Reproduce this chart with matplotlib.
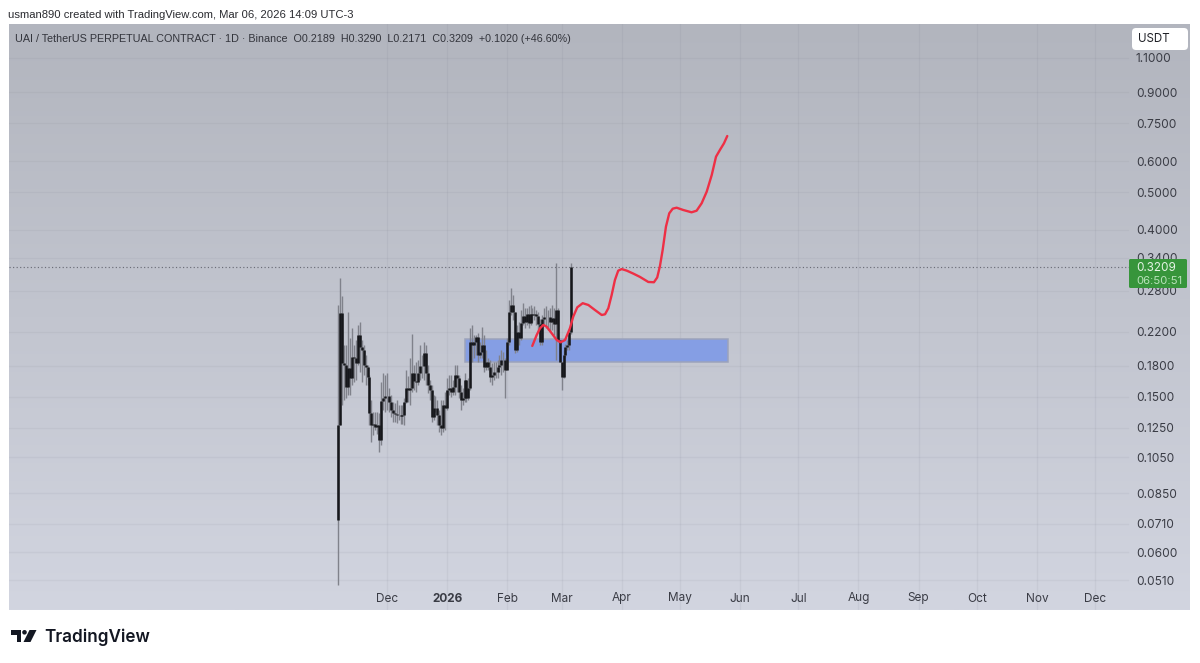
import numpy as np
import pandas as pd
import matplotlib
matplotlib.use("Agg")
import matplotlib.pyplot as plt
import matplotlib.dates as mdates
from matplotlib.patches import Polygon, Ellipse, FancyBboxPatch, Rectangle

W, H = 1200, 663

# daily UAI/USDT candles, first one on Nov 6 2025 (open of each day = previous close)
first_open = 0.0726
closes = [
    0.1270, 0.2455, 0.1828, 0.1807, 0.1588, 0.1776, 0.1675, 0.1895, 0.1883, 0.1828,
    0.2158, 0.2010, 0.1974, 0.1807, 0.1786, 0.1685, 0.1363, 0.1270, 0.1278, 0.1255,
    0.1270, 0.1162, 0.1463, 0.1489, 0.1506, 0.1506, 0.1454, 0.1387, 0.1363, 0.1355,
    0.1347, 0.1347, 0.1339, 0.1347, 0.1454, 0.1579, 0.1560, 0.1579, 0.1725, 0.1645,
    0.1635, 0.1725, 0.1797, 0.1797, 0.1940, 0.1725, 0.1607, 0.1560, 0.1332, 0.1404,
    0.1404, 0.1347, 0.1270, 0.1248, 0.1429, 0.1404, 0.1560, 0.1579, 0.1542, 0.1588,
    0.1705, 0.1675, 0.1542, 0.1471, 0.1489, 0.1654, 0.1489, 0.1579, 0.2070, 0.2034,
    0.2070, 0.2133, 0.1917, 0.1951, 0.2034, 0.1786, 0.1839, 0.1786, 0.1685, 0.1705,
    0.1735, 0.1735, 0.1786, 0.1807, 0.1861, 0.1861, 0.1755, 0.2070, 0.2469, 0.2573,
    0.2469, 0.1974, 0.2196, 0.2120, 0.2315, 0.2411, 0.2328, 0.2440, 0.2315, 0.2440,
    0.2426, 0.2440, 0.2411, 0.2301, 0.2070, 0.2369, 0.2397, 0.2397, 0.2397, 0.2328,
    0.2383, 0.2301, 0.2498, 0.2094, 0.1839, 0.1685, 0.1917, 0.2010, 0.2034, 0.2189,
    0.3209,
]
highs = [
    0.2573, 0.3015, 0.2710, 0.2034, 0.2034, 0.2469, 0.2120, 0.2248, 0.2034, 0.2094,
    0.2288, 0.2328, 0.2094, 0.2034, 0.1917, 0.1807, 0.1705, 0.1471, 0.1371, 0.1371,
    0.1371, 0.1363, 0.1635, 0.1725, 0.1705, 0.1725, 0.1579, 0.1515, 0.1454, 0.1446,
    0.1471, 0.1429, 0.1429, 0.1429, 0.1489, 0.1755, 0.1695, 0.1883, 0.2171, 0.1807,
    0.1839, 0.1861, 0.2034, 0.1917, 0.2070, 0.2034, 0.1807, 0.1654, 0.1607, 0.1515,
    0.1506, 0.1471, 0.1387, 0.1471, 0.1471, 0.1542, 0.1675, 0.1705, 0.1705, 0.1654,
    0.1807, 0.1807, 0.1705, 0.1607, 0.1579, 0.1725, 0.1654, 0.1675, 0.2248, 0.2288,
    0.2158, 0.2158, 0.2183, 0.2070, 0.2261, 0.2158, 0.1974, 0.1883, 0.1861, 0.1828,
    0.1839, 0.1839, 0.1861, 0.1917, 0.1974, 0.1951, 0.1883, 0.2120, 0.2649, 0.2843,
    0.2727, 0.2469, 0.2288, 0.2328, 0.2498, 0.2607, 0.2528, 0.2528, 0.2558, 0.2573,
    0.2528, 0.2558, 0.2498, 0.2469, 0.2369, 0.2426, 0.2528, 0.2558, 0.2498, 0.2528,
    0.2573, 0.2528, 0.3290, 0.2528, 0.2100, 0.1839, 0.1974, 0.2040, 0.2100, 0.2200,
    0.3290,
]
lows = [
    0.0496, 0.1270, 0.1429, 0.1471, 0.1489, 0.1515, 0.1515, 0.1607, 0.1635, 0.1654,
    0.1807, 0.1735, 0.1635, 0.1705, 0.1607, 0.1607, 0.1270, 0.1149, 0.1198, 0.1233,
    0.1205, 0.1084, 0.1129, 0.1387, 0.1371, 0.1387, 0.1371, 0.1332, 0.1293, 0.1293,
    0.1285, 0.1308, 0.1278, 0.1278, 0.1270, 0.1446, 0.1454, 0.1429, 0.1542, 0.1560,
    0.1542, 0.1607, 0.1654, 0.1675, 0.1654, 0.1607, 0.1533, 0.1471, 0.1293, 0.1308,
    0.1371, 0.1270, 0.1219, 0.1198, 0.1219, 0.1233, 0.1387, 0.1515, 0.1497, 0.1515,
    0.1515, 0.1542, 0.1489, 0.1387, 0.1429, 0.1454, 0.1454, 0.1471, 0.1560, 0.1839,
    0.1883, 0.1917, 0.1839, 0.1883, 0.1883, 0.1735, 0.1755, 0.1755, 0.1635, 0.1607,
    0.1654, 0.1675, 0.1675, 0.1735, 0.1705, 0.1735, 0.1489, 0.1755, 0.2034, 0.2426,
    0.2355, 0.1940, 0.1951, 0.2034, 0.2094, 0.2288, 0.2248, 0.2288, 0.2248, 0.2288,
    0.2328, 0.2355, 0.2288, 0.2196, 0.2034, 0.2034, 0.2288, 0.2248, 0.2221, 0.2196,
    0.2221, 0.2158, 0.1861, 0.2070, 0.1839, 0.1560, 0.1675, 0.1900, 0.1974, 0.1974,
    0.2171,
]

# projected path, days counted from Dec 1 2025
path_days = [
    74.9, 77.2, 78.9, 80.6, 82.3, 84.9, 87.5, 89.5, 91.8, 94.3, 96.0, 98.1, 100.9, 103.8, 107.2,
    110.7, 112.4, 114.1, 115.8, 117.5, 119.2, 121.0, 123.6, 127.0, 130.4, 134.7, 137.6, 139.3,
    140.7, 142.1, 143.8, 145.5, 147.3, 149.3, 152.7, 157.0, 159.6, 162.2, 164.8, 167.4, 169.6,
    171.6, 173.7, 175.4,
]
path_prices = [
    0.2022, 0.2158, 0.2243, 0.2288, 0.2265, 0.2179, 0.2094, 0.2066, 0.2094, 0.2243, 0.2402,
    0.2538, 0.2600, 0.2573, 0.2498, 0.2426, 0.2436, 0.2524, 0.2726, 0.2980, 0.3149, 0.3178,
    0.3149, 0.3094, 0.3035, 0.2946, 0.2941, 0.3025, 0.3234, 0.3555, 0.4078, 0.4412, 0.4534,
    0.4560, 0.4499, 0.4438, 0.4480, 0.4680, 0.5010, 0.5527, 0.6155, 0.6403, 0.6659, 0.6952,
]

zone_start, zone_end = "2026-01-10", "2026-05-26"
zone_low, zone_high = 0.1839, 0.2107

last_price = 0.3209
price_ticks = [1.1, 0.9, 0.75, 0.6, 0.5, 0.4, 0.34, 0.28, 0.22, 0.18, 0.15, 0.125, 0.105, 0.085, 0.071, 0.06, 0.051]
month_starts = ["2025-12-01", "2026-01-01", "2026-02-01", "2026-03-01", "2026-04-01", "2026-05-01",
                "2026-06-01", "2026-07-01", "2026-08-01", "2026-09-01", "2026-10-01", "2026-11-01", "2026-12-01"]
month_labels = ["Dec", "2026", "Feb", "Mar", "Apr", "May", "Jun", "Jul", "Aug", "Sep", "Oct", "Nov", "Dec"]

plt.rcParams["font.family"] = ["Inter", "DejaVu Sans"]
TXT = "#3a3c45"
HEAD_FONT = ["Liberation Sans", "DejaVu Sans"]


def fx(x):
    return x / W


def fy(y):
    return 1 - y / H


fig = plt.figure(figsize=(12, 6.63), dpi=100, facecolor="white")
pos = [fx(9), fy(610), fx(1190) - fx(9), fy(24) - fy(610)]

# panel background, darker at the top
bg = fig.add_axes(pos)
bg.imshow(np.linspace(0, 1, 256).reshape(-1, 1), aspect="auto", vmin=0, vmax=1,
          cmap=matplotlib.colors.LinearSegmentedColormap.from_list("panel", ["#b2b5be", "#d2d5e0"]))
bg.axis("off")

ax = fig.add_axes(pos, facecolor="none")
ax.set_yscale("log")
ax.set_ylim(0.04278, 1.3435)
dec1 = mdates.date2num(pd.Timestamp("2025-12-01"))
ax.set_xlim(dec1 - 194.8, dec1 + 413.9)
ax.set_xticks([])
ax.set_yticks([])
ax.minorticks_off()
for s in ax.spines.values():
    s.set_visible(False)

month_x = mdates.date2num(pd.to_datetime(month_starts))
grid_end = (1128 - 9) / (1190 - 9)
for m in month_x:
    ax.axvline(m, color="#6d7080", alpha=0.09, lw=0.9, zorder=1)
for p in price_ticks:
    ax.axhline(p, xmax=grid_end, color="#6d7080", alpha=0.08, lw=0.9, zorder=1)

# zone rectangle
zs = mdates.date2num(pd.Timestamp(zone_start))
ze = mdates.date2num(pd.Timestamp(zone_end))
ax.add_patch(Rectangle((zs, zone_low), ze - zs, zone_high - zone_low, facecolor="#859ee4",
                       edgecolor="#9ca3bb", lw=1.1, zorder=2))

# candles
days = mdates.date2num(pd.date_range("2025-11-06", periods=len(closes), freq="D"))
opens = [first_open] + closes[:-1]
ax.vlines(days, lows, highs, color="#80828b", lw=1.0, zorder=3)
ax.vlines(days, opens, closes, color="#16171b", lw=1.85, zorder=4, capstyle="butt")

ax.plot(dec1 + np.array(path_days), path_prices, color="#ee2f45", lw=1.7, zorder=5,
        solid_joinstyle="round", solid_capstyle="round")

# last price line
ax.axhline(last_price, xmax=(1130 - 9) / (1190 - 9), color="#6b6d77", lw=0.85, ls=(0, (1, 2)), zorder=3)

ytrans = ax.get_yaxis_transform()
for p in price_ticks:
    ax.text((1136 - 9) / (1190 - 9), p, f"{p:.4f}", transform=ytrans, ha="left", va="center_baseline",
            fontsize=8.6, color=TXT, zorder=6)
xtrans = ax.get_xaxis_transform()
for m, lab in zip(month_x, month_labels):
    ax.text(m, (610 - 598.5) / (610 - 24), lab, transform=xtrans, ha="center", va="center",
            fontsize=8.5, color=TXT, fontweight="bold" if lab == "2026" else "normal", zorder=6)

ax.text((15 - 9) / 1181, (610 - 39) / 586,
        "UAI / TetherUS PERPETUAL CONTRACT · 1D · Binance  O0.2189  H0.3290  L0.2171  C0.3209  +0.1020 (+46.60%)",
        transform=ax.transAxes, ha="left", va="center", fontsize=7.75, color="#33353c", zorder=6,
        family=HEAD_FONT)


# currency button and price tag sit above the axes contents
def px_box(x0, y0, x1, y1, color, r, z=8):
    return FancyBboxPatch((fx(x0 + r), fy(y1 - r)), fx(x1 - x0 - 2 * r), fy(y0 + r) - fy(y1 - r),
                          boxstyle=f"round,pad={r / W},rounding_size={r / W}", transform=fig.transFigure,
                          facecolor=color, edgecolor="none", zorder=z, mutation_aspect=W / H)


fig.add_artist(px_box(1132, 28, 1188, 50, "white", 4))
fig.text(fx(1154), fy(39), "USDT", ha="center", va="center", fontsize=8.3, color="#1f2026", zorder=9)
fig.add_artist(px_box(1129, 259, 1187, 288, "#37953b", 1.5))
fig.text(fx(1136), fy(268), "0.3209", ha="left", va="center", fontsize=8.4, color="#e6f4e6", zorder=9)
fig.text(fx(1136), fy(280.5), "06:50:51", ha="left", va="center", fontsize=8.2, color="#b9e2ba", zorder=9)

fig.text(fx(8), fy(15), "usman890 created with TradingView.com, Mar 06, 2026 14:09 UTC-3",
         ha="left", va="center", fontsize=8.07, color="#2a2b30", family=HEAD_FONT)


# TradingView mark and wordmark
def pts(points):
    return [(fx(x), fy(y)) for x, y in points]


logo = "#131722"
fig.add_artist(Polygon(pts([(10.5, 630), (20.5, 630), (20.5, 642), (16.5, 642), (16.5, 634.5), (10.5, 634.5)]),
                       closed=True, transform=fig.transFigure, facecolor=logo, edgecolor="none"))
fig.add_artist(Polygon(pts([(29.5, 630), (36.5, 630), (30.5, 642), (23.5, 642)]),
                       closed=True, transform=fig.transFigure, facecolor=logo, edgecolor="none"))
fig.add_artist(Ellipse((fx(24.5), fy(632.3)), 4.6 / W, 4.6 / H,
                       transform=fig.transFigure, facecolor=logo, edgecolor="none"))
fig.text(fx(44), fy(637), "TradingView", ha="left", va="center", fontsize=12.3,
         fontweight="semibold", color=logo)

fig.savefig("out.png", dpi=100)
